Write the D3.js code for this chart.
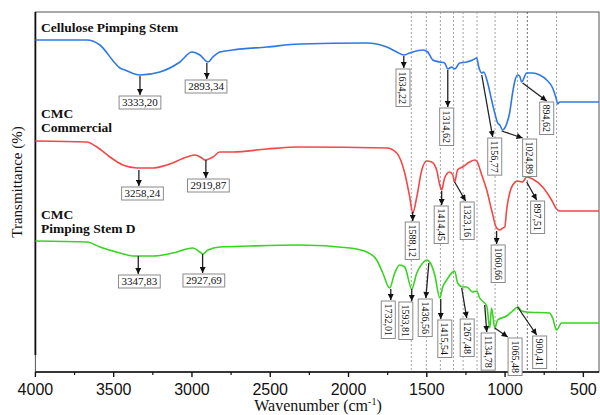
<!DOCTYPE html>
<html lang="en">
<head>
  <meta charset="UTF-8">
  <title>FTIR spectra - Cellulose / CMC</title>
  <script src="https://d3js.org/d3.v7.min.js"></script>
  <style>
    body { margin: 0; background: #fff; }
    svg { display: block; }
    .tick-label { font-family: 'Liberation Sans', Arial, sans-serif; font-size: 16px; fill: #111; }
    .axis-title { font-family: 'Liberation Serif', 'Times New Roman', serif; font-size: 16px; fill: #111; }
    .series-name { font-family: 'Liberation Serif', 'Times New Roman', serif; font-size: 13.5px; font-weight: bold; fill: #111; }
    .peak-box { fill: #fff; stroke: #8a8a8a; stroke-width: 1; }
    .peak-text { font-family: 'Liberation Serif', 'Times New Roman', serif; fill: #111; }
  </style>
</head>
<body>
  <svg id="chart" width="600" height="415"></svg>

  <script>
    // spectra: [wavenumber cm-1, transmittance (arbitrary, stacked)]
    const cellulose = [
      [4000,332],[3671,332],[3588,327],[3492,309],[3460,304],[3428,302],[3332,297],[3205,300],
      [3077,310],[3000,320],[2949,317],[2898,310],[2866,315],[2822,320],[2739,322],[2522,325],
      [2311,328],[1883,329],[1756,325],[1692,320],[1647,317],[1609,319],[1526,322],[1494,320],
      [1462,312],[1417,310],[1386,309],[1366,303],[1341,305],[1322,303],[1290,309],[1245,310],
      [1207,312],[1181,314],[1168,305],[1149,299],[1137,300],[1111,289],[1086,272],[1066,259],
      [1047,249],[1034,247],[1015,242],[1002,244],[990,248],[971,259],[951,280],[939,290],
      [920,297],[907,296],[894,290],[862,299],[824,299],[779,297],[734,292],[696,284],
      [671,272],[664,268],[651,270],[607,270],[400,270]
    ];
    const cmcCommercial = [
      [4000,231],[3671,230],[3607,225],[3524,215],[3441,207],[3351,204],[3249,204],[3160,207],
      [3032,215],[2981,217],[2937,214],[2917,212],[2866,215],[2822,220],[2739,220],[2522,223],
      [2311,225],[1756,224],[1692,219],[1641,199],[1609,175],[1590,159],[1564,175],[1532,202],
      [1500,211],[1469,210],[1437,202],[1417,187],[1405,182],[1386,194],[1354,200],[1334,197],
      [1322,190],[1303,202],[1271,205],[1226,210],[1194,212],[1181,211],[1149,197],[1117,182],
      [1086,162],[1054,144],[1034,142],[1015,144],[1002,145],[990,162],[951,187],[920,191],
      [888,190],[862,195],[824,193],[760,185],[703,172],[671,163],[651,161],[400,161]
    ];
    const cmcStemD = [
      [4000,131],[3671,130],[3588,125],[3460,119],[3377,116],[3249,116],[3122,119],[2994,124],
      [2949,120],[2930,118],[2898,122],[2822,125],[2630,126],[2311,127],[1992,124],[1883,120],
      [1820,112],[1781,99],[1737,84],[1705,99],[1673,107],[1641,105],[1596,83],[1564,99],
      [1526,109],[1500,112],[1481,110],[1449,97],[1417,74],[1398,85],[1373,92],[1334,100],
      [1322,101],[1303,89],[1271,85],[1245,85],[1207,80],[1181,81],[1162,74],[1117,66],
      [1098,44],[1086,64],[1066,44],[1047,52],[990,56],[951,61],[920,65],[894,61],[862,60],
      [715,59],[696,54],[671,42],[639,49],[400,49]
    ];

    const guideLines = [1599, 1503, 1413, 1329, 1268, 1179, 1064, 920, 858, 671];
    const majorTicks = [4000, 3500, 3000, 2500, 2000, 1500, 1000, 500];
    const minorTicks = [3750, 3250, 2750, 2250, 1750, 1250, 750];

    // peak call-outs: arrow from -> to (data units), box centred on boxAt, top at arrow tip
    const celluloseMarks = [
      { label: "3333,20", from: [3332,296], to: [3332,277], boxAt: 3332, vertical: false },
      { label: "2893,34", from: [2905,309], to: [2905,293], boxAt: 2910, vertical: false },
      { label: "1634,22", from: [1647,316], to: [1647,304], boxAt: 1652, vertical: true },
      { label: "1314,62", from: [1366,302], to: [1366,265], boxAt: 1373, vertical: true },
      { label: "1156,77", from: [1149,297], to: [1079,235], boxAt: 1066, vertical: true },
      { label: "1024,89", from: [1022,241], to: [888,234], boxAt: 843, vertical: true },
      { label: "894,62",  from: [888,289],  to: [734,271], boxAt: 734, vertical: true }
    ];
    const commercialMarks = [
      { label: "3258,24", from: [3339,202], to: [3339,186], boxAt: 3316, vertical: false },
      { label: "2919,87", from: [2911,212], to: [2911,194], boxAt: 2895, vertical: false },
      { label: "1588,12", from: [1590,160], to: [1590,151], boxAt: 1593, vertical: true },
      { label: "1414,45", from: [1405,181], to: [1405,167], boxAt: 1408, vertical: true },
      { label: "1323,16", from: [1322,190], to: [1252,171], boxAt: 1242, vertical: true },
      { label: "1060,66", from: [1054,141], to: [1054,128], boxAt: 1044, vertical: true },
      { label: "897,51",  from: [862,190],  to: [798,172], boxAt: 792, vertical: true }
    ];
    const stemDMarks = [
      { label: "3347,83", from: [3343,116], to: [3343,98], boxAt: 3336, vertical: false },
      { label: "2927,69", from: [2932,118], to: [2932,99], boxAt: 2924, vertical: false },
      { label: "1732,01", from: [1730,83],  to: [1730,72], boxAt: 1746, vertical: true },
      { label: "1593,81", from: [1596,83],  to: [1596,71], boxAt: 1634, vertical: true },
      { label: "1436,56", from: [1487,109], to: [1506,74], boxAt: 1510, vertical: true },
      { label: "1415,54", from: [1411,73],  to: [1411,53], boxAt: 1385, vertical: true },
      { label: "1267,48", from: [1277,84],  to: [1245,54], boxAt: 1242, vertical: true },
      { label: "1134,78", from: [1130,67],  to: [1117,40], boxAt: 1108, vertical: true },
      { label: "1065,48", from: [1066,44],  to: [983,35],  boxAt: 936, vertical: true },
      { label: "900,41",  from: [920,65],   to: [798,37],  boxAt: 779, vertical: true }
    ];

    const series = [
      { name: ["Cellulose Pimping Stem"], data: cellulose, color: "#2f78e4", marks: celluloseMarks, labelY: 32 },
      { name: ["CMC", "Commercial"], data: cmcCommercial, color: "#f24848", marks: commercialMarks, labelY: 118 },
      { name: ["CMC", "Pimping Stem D"], data: cmcStemD, color: "#38d421", marks: stemDMarks, labelY: 219 }
    ];

    const svg = d3.select("#chart");
    const plotLeft = 35.4, plotRight = 599, plotTop = 12, plotBottom = 372;

    const x = d3.scaleLinear().domain([4000, 400]).range([plotLeft, plotRight]);
    const y = d3.scaleLinear().domain([0, 360]).range([plotBottom, plotTop]);

    svg.append("defs").append("marker")
        .attr("id", "arrow")
        .attr("viewBox", "0 0 10 10")
        .attr("refX", 10).attr("refY", 5)
        .attr("markerWidth", 8).attr("markerHeight", 6)
        .attr("markerUnits", "userSpaceOnUse")
        .attr("orient", "auto")
      .append("path")
        .attr("d", "M0,0 L10,5 L0,10 z")
        .attr("fill", "#111");

    // frame
    svg.append("rect")
        .attr("x", plotLeft).attr("y", plotTop)
        .attr("width", plotRight - plotLeft).attr("height", plotBottom - plotTop)
        .attr("fill", "none").attr("stroke", "#555").attr("stroke-width", 1);

    // dashed guide lines
    svg.append("g").selectAll("line")
      .data(guideLines)
      .enter().append("line")
        .attr("x1", d => x(d)).attr("x2", d => x(d))
        .attr("y1", plotTop).attr("y2", plotBottom)
        .attr("stroke", d => d === 858 ? "#444" : "#8c8c8c")
        .attr("stroke-width", 0.8)
        .attr("stroke-dasharray", "2,2");

    // axes
    svg.append("line")
        .attr("x1", plotLeft).attr("x2", plotLeft).attr("y1", plotTop).attr("y2", 355)
        .attr("stroke", "#111").attr("stroke-width", 1.8);
    svg.append("line")
        .attr("x1", plotLeft).attr("x2", plotRight).attr("y1", plotBottom).attr("y2", plotBottom)
        .attr("stroke", "#111").attr("stroke-width", 1.6);

    svg.append("g").selectAll("line")
      .data(majorTicks)
      .enter().append("line")
        .attr("x1", d => x(d)).attr("x2", d => x(d))
        .attr("y1", plotBottom).attr("y2", plotBottom + 5)
        .attr("stroke", "#111").attr("stroke-width", 1.4);
    svg.append("g").selectAll("line")
      .data(minorTicks)
      .enter().append("line")
        .attr("x1", d => x(d)).attr("x2", d => x(d))
        .attr("y1", plotBottom).attr("y2", plotBottom + 3)
        .attr("stroke", "#111").attr("stroke-width", 1.2);
    svg.append("g").selectAll("text")
      .data(majorTicks)
      .enter().append("text")
        .attr("class", "tick-label")
        .attr("x", d => x(d)).attr("y", 395)
        .attr("text-anchor", "middle")
        .text(d => d);

    const xTitle = svg.append("text")
        .attr("class", "axis-title")
        .attr("x", 318).attr("y", 411)
        .attr("text-anchor", "middle");
    xTitle.append("tspan").text("Wavenumber (cm");
    xTitle.append("tspan").attr("dy", -6).style("font-size", "10px").text("-1");
    xTitle.append("tspan").attr("dy", 6).text(")");

    svg.append("text")
        .attr("class", "axis-title")
        .attr("transform", "translate(22,182) rotate(-90)")
        .attr("text-anchor", "middle")
        .style("font-size", "15px")
        .text("Transmittance (%)");

    // spectra
    const line = d3.line()
        .x(d => x(d[0]))
        .y(d => y(d[1]))
        .curve(d3.curveMonotoneX);

    series.forEach(s => {
      svg.append("path")
          .datum(s.data)
          .attr("fill", "none")
          .attr("stroke", s.color)
          .attr("stroke-width", 1.6)
          .attr("stroke-linejoin", "round")
          .attr("d", line);

      s.name.forEach((t, i) => {
        svg.append("text")
            .attr("class", "series-name")
            .attr("x", 41).attr("y", s.labelY + i * 14)
            .text(t);
      });
    });

    // call-outs
    series.forEach(s => {
      s.marks.forEach(m => {
        svg.append("line")
            .attr("x1", x(m.from[0])).attr("y1", y(m.from[1]))
            .attr("x2", x(m.to[0])).attr("y2", y(m.to[1]))
            .attr("stroke", "#222").attr("stroke-width", 1.3)
            .attr("marker-end", "url(#arrow)");

        const cx = x(m.boxAt), boxTop = y(m.to[1]) + 1;
        const g = svg.append("g");
        const rect = g.append("rect").attr("class", "peak-box");
        const txt = g.append("text").attr("class", "peak-text").text(m.label);

        if (m.vertical) {
          txt.style("font-size", "10px");
          const tw = txt.node().getComputedTextLength();
          const h = tw + 5;
          rect.attr("x", cx - 7).attr("y", boxTop).attr("width", 14).attr("height", h);
          txt.attr("text-anchor", "middle")
             .attr("dy", "0.35em")
             .attr("transform", `translate(${cx},${boxTop + h / 2}) rotate(90)`);
        } else {
          txt.style("font-size", "11px");
          const tw = txt.node().getComputedTextLength();
          const w = tw + 6;
          rect.attr("x", cx - w / 2).attr("y", boxTop).attr("width", w).attr("height", 13);
          txt.attr("text-anchor", "middle").attr("x", cx).attr("y", boxTop + 10);
        }
      });
    });
  </script>
</body>
</html>
